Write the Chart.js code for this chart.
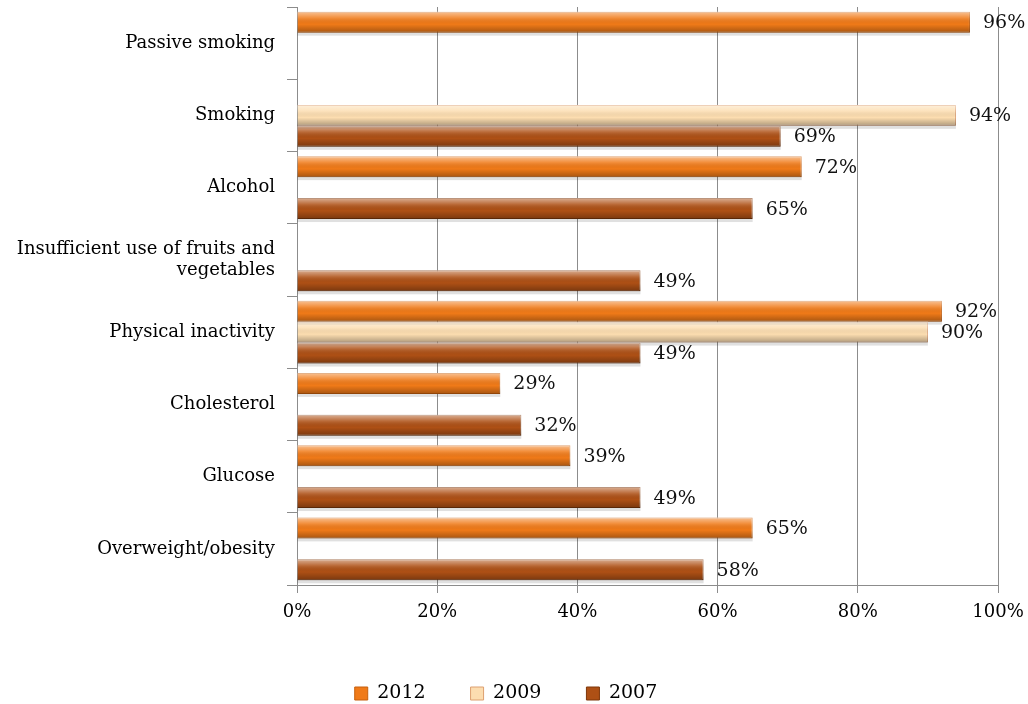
<!DOCTYPE html>
<html>
<head>
<meta charset="utf-8">
<script src="https://cdn.jsdelivr.net/npm/chart.js@4/dist/chart.umd.min.js"></script>
<style>
  html, body { margin: 0; padding: 0; background: #fff; }
  #wrap { width: 1028px; height: 704px; position: relative; }
</style>
</head>
<body>
<div id="wrap"><canvas id="barChart"></canvas></div>
<script>
var categories = ['Passive smoking', 'Smoking', 'Alcohol',
  ['Insufficient use of fruits and', 'vegetables'],
  'Physical inactivity', 'Cholesterol', 'Glucose', 'Overweight/obesity'];
var years = ['2012', '2009', '2007'];
var values2012 = [96, null, 72, null, 92, 29, 39, 65];
var values2009 = [null, 94, null, null, 90, null, null, null];
var values2007 = [null, 69, 65, 49, 49, 32, 49, 58];
var xTicks = [0, 20, 40, 60, 80, 100];

var serif = '"DejaVu Serif", serif';

// shading on top of each bar + value labels
var barLook = {
  id: 'barLook',
  afterDatasetsDraw: function (chart) {
    var ctx = chart.ctx;
    chart.data.datasets.forEach(function (ds, di) {
      var meta = chart.getDatasetMeta(di);
      meta.data.forEach(function (el, i) {
        var v = ds.data[i];
        if (v === null) return;
        var top = el.y - el.height / 2, left = el.base, w = el.x - el.base, h = el.height;
        var g = ctx.createLinearGradient(0, top, 0, top + h);
        g.addColorStop(0, 'rgba(255,255,255,0.55)');
        g.addColorStop(0.3, 'rgba(255,255,255,0.15)');
        g.addColorStop(0.6, 'rgba(0,0,0,0)');
        g.addColorStop(1, 'rgba(0,0,0,0.3)');
        ctx.save();
        ctx.fillStyle = g;
        ctx.fillRect(left, top, w, h);
        ctx.fillStyle = 'rgba(0,0,0,0.12)';
        ctx.fillRect(left, top + h, w, 3);
        ctx.fillStyle = '#111';
        ctx.font = '19px ' + serif;
        ctx.textBaseline = 'middle';
        ctx.fillText(v + '%', el.x + 13, el.y + 1);
        ctx.restore();
      });
    });
  }
};

var ctx = document.getElementById('barChart').getContext('2d');
var chart = new Chart(ctx, {
  type: 'bar',
  data: {
    labels: categories,
    datasets: [
      { label: years[0], data: values2012, backgroundColor: '#F07A18', borderColor: '#C65F0C', borderWidth: 1 },
      { label: years[1], data: values2009, backgroundColor: '#FCDDB0', borderColor: '#DDA070', borderWidth: 1 },
      { label: years[2], data: values2007, backgroundColor: '#AE5015', borderColor: '#7E370A', borderWidth: 1 }
    ]
  },
  options: {
    indexAxis: 'y',
    responsive: true,
    maintainAspectRatio: false,
    animation: false,
    layout: { padding: { top: 7, right: 30, left: 14, bottom: -9 } },
    datasets: { bar: { categoryPercentage: 0.87, barPercentage: 1 } },
    scales: {
      x: {
        min: 0, max: 100,
        afterBuildTicks: function (s) { s.ticks = xTicks.map(function (v) { return { value: v }; }); },
        afterFit: function (s) { s.height = 54; s.paddingLeft = 0; s.paddingRight = 0; },
        ticks: { callback: function (v) { return v + '%'; }, color: '#000', font: { family: serif, size: 18 }, padding: 9 },
        grid: { color: '#8c8c8c', tickLength: 8 },
        border: { color: '#8c8c8c' }
      },
      y: {
        offset: true,
        afterFit: function (s) { s.width = 283; s.paddingTop = 0; s.paddingBottom = 0; },
        ticks: { color: '#000', font: { family: serif, size: 18 }, padding: 12 },
        grid: { offset: true, drawOnChartArea: false, tickLength: 10, color: '#8c8c8c' },
        border: { color: '#8c8c8c' }
      }
    },
    plugins: {
      legend: {
        position: 'bottom',
        labels: { boxWidth: 13, boxHeight: 13, padding: 45, color: '#000', font: { family: serif, size: 19 } }
      },
      tooltip: { enabled: false }
    }
  },
  plugins: [barLook]
});
</script>
</body>
</html>
